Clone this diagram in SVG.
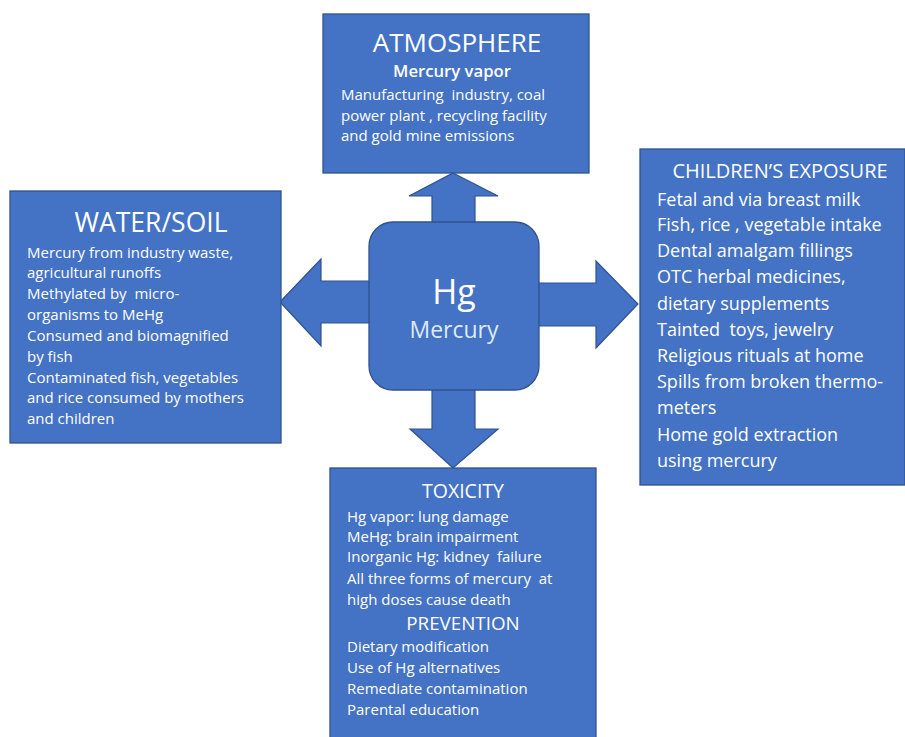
<svg xmlns="http://www.w3.org/2000/svg" width="905" height="737" viewBox="0 0 905 737">
<style>
.box{fill:#4472C4;stroke:#2F528F;stroke-width:1.3}
.arr{fill:#4472C4;stroke:#2F528F;stroke-width:1.2;stroke-linejoin:miter}
text{font-family:"Open Sans","Liberation Sans",sans-serif;fill:#FFFFFF;white-space:pre}
.h{text-anchor:middle}
.b15{font-size:15px}
.b18{font-size:18px}
</style>
<rect width="905" height="737" fill="#FFFFFF"/>
<g id="connectors">
<polygon class="arr" points="453,173 498,196 475,196 475,226 432,226 432,196 409,196"/>
<polygon class="arr" points="280,302 321,259 321,281 372,281 372,323 321,323 321,346"/>
<polygon class="arr" points="537,283 596,283 596,261 638,304 596,348 596,326 537,326"/>
<polygon class="arr" points="432,386 475,386 475,429 498,429 453,468 410,429 432,429"/>
</g>
<g id="atmosphere">
<rect class="box" x="323" y="14" width="266" height="159"/>
<text class="h" x="457" y="52" font-size="26">ATMOSPHERE</text>
<text class="h" x="452" y="77" font-size="16.7" font-weight="600">Mercury vapor</text>
<text class="b15" x="341" y="100" xml:space="preserve">Manufacturing  industry, coal</text>
<text class="b15" x="341" y="121">power plant , recycling facility</text>
<text class="b15" x="341" y="141">and gold mine emissions</text>
</g>
<g id="water-soil">
<rect class="box" x="10" y="191" width="271" height="252"/>
<text class="h" x="151" y="232" font-size="26.5">WATER/SOIL</text>
<text class="b15" x="27" y="258">Mercury from industry waste,</text>
<text class="b15" x="27" y="278">agricultural runoffs</text>
<text class="b15" x="27" y="299" xml:space="preserve">Methylated by  micro-</text>
<text class="b15" x="27" y="320">organisms to MeHg</text>
<text class="b15" x="27" y="341">Consumed and biomagnified</text>
<text class="b15" x="27" y="362">by fish</text>
<text class="b15" x="27" y="383">Contaminated fish, vegetables</text>
<text class="b15" x="27" y="403">and rice consumed by mothers</text>
<text class="b15" x="27" y="424">and children</text>
</g>
<g id="childrens-exposure">
<rect class="box" x="640" y="149" width="265" height="336"/>
<text class="h" x="780" y="178" font-size="20">CHILDREN’S EXPOSURE</text>
<text class="b18" x="657" y="206">Fetal and via breast milk</text>
<text class="b18" x="657" y="231">Fish, rice , vegetable intake</text>
<text class="b18" x="657" y="257">Dental amalgam fillings</text>
<text class="b18" x="657" y="283">OTC herbal medicines,</text>
<text class="b18" x="657" y="310">dietary supplements</text>
<text class="b18" x="657" y="336" xml:space="preserve">Tainted  toys, jewelry</text>
<text class="b18" x="657" y="362">Religious rituals at home</text>
<text class="b18" x="657" y="388">Spills from broken thermo-</text>
<text class="b18" x="657" y="414">meters</text>
<text class="b18" x="657" y="441">Home gold extraction</text>
<text class="b18" x="657" y="467">using mercury</text>
</g>
<g id="toxicity">
<rect class="box" x="330" y="468" width="266" height="280"/>
<text class="h" x="463" y="498" font-size="19.5">TOXICITY</text>
<text class="b15" x="347" y="522">Hg vapor: lung damage</text>
<text class="b15" x="347" y="542">MeHg: brain impairment</text>
<text class="b15" x="347" y="562" xml:space="preserve">Inorganic Hg: kidney  failure</text>
<text class="b15" x="347" y="584" xml:space="preserve">All three forms of mercury  at</text>
<text class="b15" x="347" y="605">high doses cause death</text>
<text class="h" x="463" y="630" font-size="18.8">PREVENTION</text>
<text class="b15" x="347" y="652">Dietary modification</text>
<text class="b15" x="347" y="673">Use of Hg alternatives</text>
<text class="b15" x="347" y="694">Remediate contamination</text>
<text class="b15" x="347" y="715">Parental education</text>
</g>
<g id="mercury">
<rect class="box" x="369" y="222" width="170" height="168" rx="24" ry="24"/>
<text class="h" x="454" y="304" font-size="34">Hg</text>
<text class="h" x="454" y="338" font-size="23" style="fill:#DDEBF7">Mercury</text>
</g>
</svg>
